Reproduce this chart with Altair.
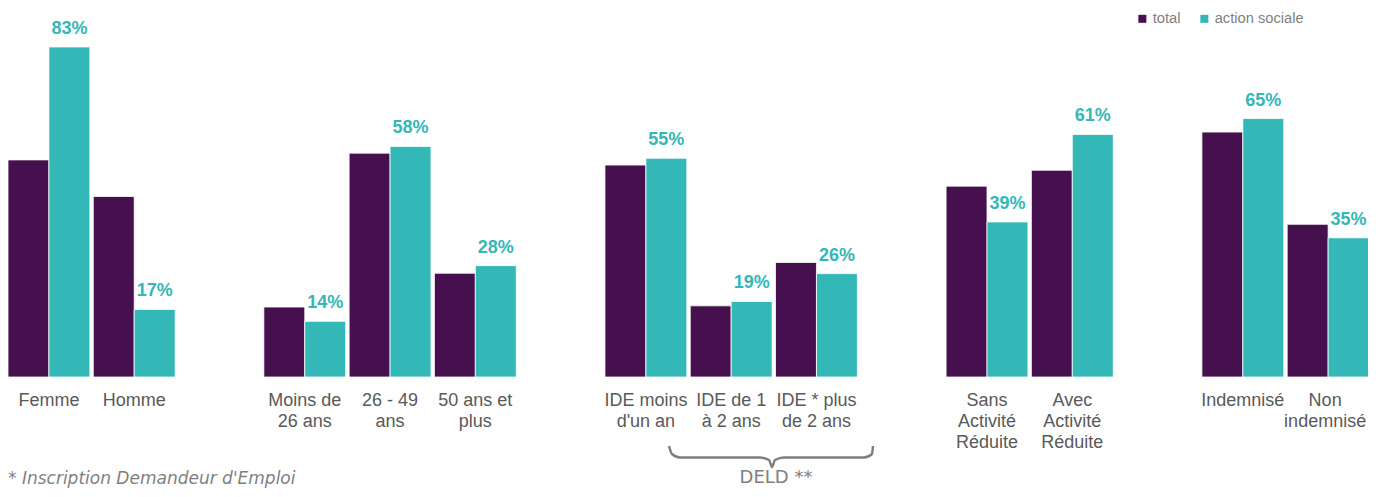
import altair as alt
import pandas as pd

# ---- data -------------------------------------------------------------
groups = [
    ["Femme", "Homme"],
    ["Moins de\n26 ans", "26 - 49\nans", "50 ans et\nplus"],
    ["IDE moins\nd'un an", "IDE de 1\nà 2 ans", "IDE * plus\nde 2 ans"],
    ["Sans\nActivité\nRéduite", "Avec\nActivité\nRéduite"],
    ["Indemnisé", "Non\nindemnisé"],
]
total = [54.6, 45.4, 17.6, 56.3, 26.1, 53.3, 17.9, 28.8, 48.0, 52.0, 61.6, 38.4]
action_sociale = [83, 17, 14, 58, 28, 55, 19, 26, 39, 61, 65, 35]
series = ["total", "action sociale"]
colors = ["#45104D", "#33B7B7"]

# brace under the DELD categories (x in category slots, y in % units)
brace_x = [7.751, 7.786, 7.880, 8.818, 8.924, 8.959, 8.994, 9.099, 10.038, 10.131, 10.143]
brace_y = [-17.35, -19.37, -20.25, -20.25, -20.88, -22.64, -20.88, -20.25, -20.25, -19.37, -17.35]

footnote = "* Inscription Demandeur d'Emploi"
brace_label = "DELD **"

# ---- tables -----------------------------------------------------------
categories = [c for g in groups for c in g]
domain = []
for i, g in enumerate(groups):
    if i > 0:
        domain.append(" " * i)
    domain.extend(g)

rows = []
for c, t, a in zip(categories, total, action_sociale):
    rows.append({"cat": c, "series": series[0], "value": t, "label": ""})
    rows.append({"cat": c, "series": series[1], "value": a, "label": f"{a:.0f}%"})
df = pd.DataFrame(rows)
lab_df = df[df["series"] == series[1]]
brace_df = pd.DataFrame({"x": brace_x, "y": brace_y, "o": list(range(len(brace_x)))})

step = 85.28
n_slots = len(domain)
yscale = alt.Scale(domain=[0, 92.8], nice=False, zero=False)
xscale = alt.Scale(domain=domain, paddingInner=0.04, paddingOuter=0,
                   range=[0, step * (n_slots - 0.04)])
xoff = alt.XOffset("series:N", sort=series, scale=alt.Scale(domain=series, paddingInner=0))

bars = alt.Chart(df).mark_bar(stroke="white", strokeWidth=0.8).encode(
    x=alt.X("cat:N", scale=xscale, sort=domain, title=None,
            axis=alt.Axis(labelAngle=0, ticks=False, domain=False, labelFontSize=18,
                          labelFont="Liberation Sans", labelColor="#595959",
                          labelPadding=14, labelLineHeight=21, labelLimit=200,
                          labelOffset={"condition": {"test": "indexof(datum.value, 'indemnis') == 4",
                                                     "value": -3}, "value": 0},
                          labelExpr="split(datum.value, '\\n')")),
    xOffset=xoff,
    y=alt.Y("value:Q", scale=yscale, axis=None),
    color=alt.Color("series:N", sort=series,
                    scale=alt.Scale(domain=series, range=colors),
                    legend=alt.Legend(title=None, orient="none", legendX=1127, legendY=3,
                                      direction="horizontal", symbolType="square",
                                      symbolSize=64, symbolStrokeWidth=0,
                                      labelFontSize=14.7, labelFont="Liberation Sans",
                                      labelColor="#7f7f7f", columnPadding=16,
                                      labelOffset=3, padding=0)),
)

labels = alt.Chart(lab_df).mark_text(
    font="Liberation Sans", fontSize=18, fontWeight="bold", color="#33B7B7",
    baseline="alphabetic", dy=-13,
).encode(
    x=alt.X("cat:N", scale=xscale, sort=domain, axis=None),
    xOffset=xoff,
    y=alt.Y("value:Q", scale=yscale, axis=None),
    text="label:N",
)

brace = alt.Chart(brace_df).mark_line(
    color="#7f7f7f", strokeWidth=2.5, interpolate="monotone"
).encode(
    x=alt.X("x:Q", scale=alt.Scale(domain=[0, n_slots], range=[0, step * n_slots],
                                   nice=False, zero=False), axis=None),
    y=alt.Y("y:Q", scale=yscale, axis=None),
    order="o:Q",
)

deld = alt.Chart(pd.DataFrame({"t": [brace_label]})).mark_text(
    font="DejaVu Sans", fontSize=18, color="#7f7f7f", align="center", baseline="middle"
).encode(text="t:N", x=alt.value(768), y=alt.value(470))

foot = alt.Chart(pd.DataFrame({"t": [footnote]})).mark_text(
    font="DejaVu Sans", fontSize=17, fontStyle="italic", color="#7f7f7f",
    align="left", baseline="middle"
).encode(text="t:N", x=alt.value(0), y=alt.value(471))

chart = alt.layer(bars, labels, brace, deld, foot).resolve_scale(
    x="independent"
).properties(
    width=1360, height=369,
    background="white",
    autosize=alt.AutoSizeParams(type="none"),
    padding={"left": 0, "top": 0, "right": 0, "bottom": 112},
).configure_view(stroke=None)

chart.save("out.html", embed_options={"renderer": "svg", "actions": False})
